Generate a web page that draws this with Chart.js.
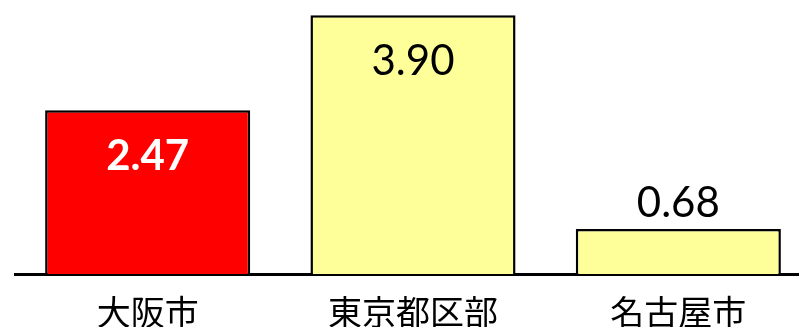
<!DOCTYPE html>
<html>
<head>
<meta charset="utf-8">
<script src="https://cdn.jsdelivr.net/npm/chart.js@4/dist/chart.umd.min.js"></script>
<style>
  html, body { margin: 0; padding: 0; background: #fff; overflow: hidden; }
  #wrap { width: 812px; height: 327px; }
</style>
</head>
<body>
<div id="wrap"><canvas id="c" width="812" height="327"></canvas></div>
<script>
// Categories and values
const cities = ['大阪市', '東京都区部', '名古屋市'];
const values = [2.47, 3.90, 0.68];
const valueLabels = ['2.47', '3.90', '0.68'];

// Bar fill colours (Osaka highlighted)
const barColors = ['#FF0000', '#FFFF99', '#FFFF99'];

// Per-bar label look: inside (white bold / black) or above the bar
const labelStyles = [
  { color: '#FFFFFF', weight: 'bold', offset: 59.5 },
  { color: '#000000', weight: 'normal', offset: 59.5 },
  { color: '#000000', weight: 'normal', offset: -11.5 }
];

const valueLabelPlugin = {
  id: 'valueLabels',
  afterDatasetsDraw(chart) {
    const ctx = chart.ctx;
    const meta = chart.getDatasetMeta(0);
    ctx.save();
    ctx.textAlign = 'center';
    ctx.textBaseline = 'alphabetic';
    meta.data.forEach((bar, i) => {
      const s = labelStyles[i];
      ctx.font = s.weight + ' 42px Lato';
      ctx.fillStyle = s.color;
      ctx.fillText(valueLabels[i], bar.x, bar.y + s.offset);
    });
    ctx.restore();
  }
};

new Chart(document.getElementById('c'), {
  type: 'bar',
  data: {
    labels: cities,
    datasets: [{
      data: values,
      backgroundColor: barColors,
      borderColor: '#000000',
      borderWidth: 2.5,
      borderSkipped: 'bottom',
      barPercentage: 0.773,
      categoryPercentage: 1.0
    }]
  },
  options: {
    responsive: false,
    animation: false,
    devicePixelRatio: 1,
    layout: { padding: { left: 15, right: 1, top: 0, bottom: 0 } },
    plugins: {
      legend: { display: false },
      tooltip: { enabled: false }
    },
    scales: {
      x: {
        z: 1,
        grid: { display: false },
        border: { display: true, color: '#000000', width: 3 },
        ticks: {
          color: '#000000',
          padding: 10,
          font: { family: '"Noto Sans CJK JP"', size: 34 }
        },
        afterFit(scale) { scale.height = 53; }
      },
      y: {
        display: false,
        min: 0,
        max: 4.13
      }
    }
  },
  plugins: [valueLabelPlugin]
});
</script>
</body>
</html>
